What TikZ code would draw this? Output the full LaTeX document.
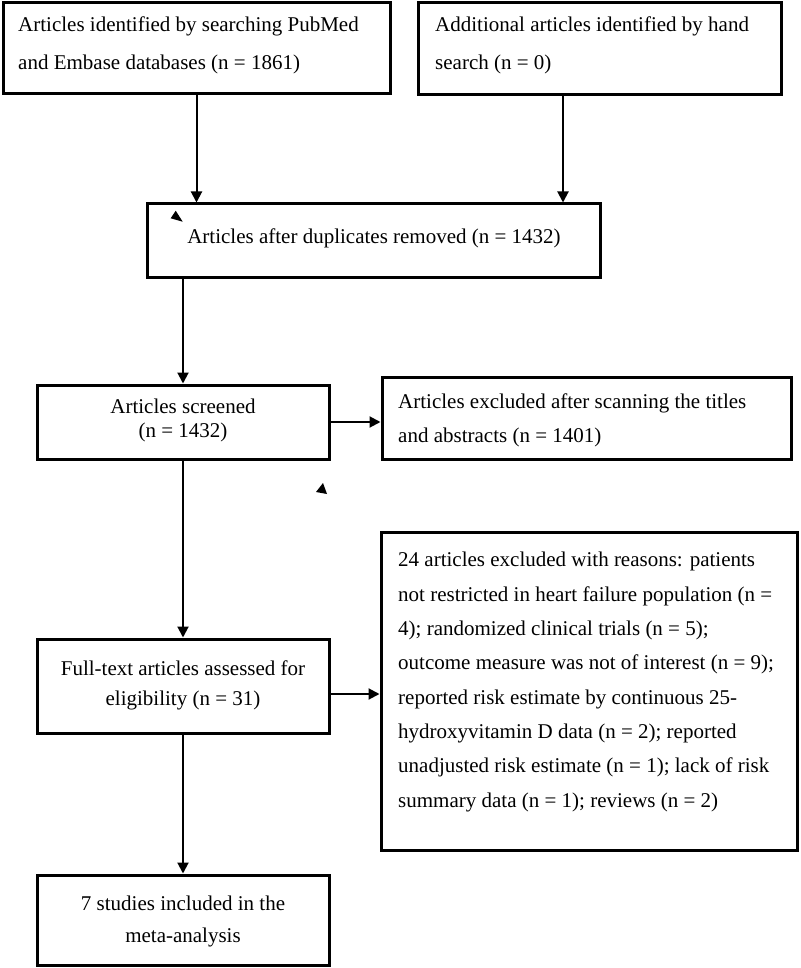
\documentclass[tikz,border=0pt]{standalone}
\usepackage{fontspec}
\setmainfont{Liberation Serif}
\usetikzlibrary{arrows.meta}
\tikzset{
  box/.style={draw, line width=3pt, rectangle, inner sep=0pt},
  txtl/.style={inner sep=0pt, align=left, anchor=west},
  txtc/.style={inner sep=0pt, align=center, anchor=center},
  conn/.style={line width=2pt, -{Triangle[length=11pt,width=11pt]}},
}
\newcommand{\fs}[1]{\fontsize{21}{#1}\selectfont}
\begin{document}
\begin{tikzpicture}[x=1pt,y=-1pt]
\useasboundingbox (0,0) rectangle (800,968);
% boxes
\node[box, minimum width=387pt, minimum height=91pt] (b1) at (196.5,48.5) {};
\node[box, minimum width=363pt, minimum height=92pt] (b2) at (599.5,49) {};
\node[box, minimum width=453pt, minimum height=73pt] (b3) at (373.5,240.5) {};
\node[box, minimum width=292pt, minimum height=74pt] (b4) at (183,422) {};
\node[box, minimum width=409pt, minimum height=82pt] (b5) at (586.5,418) {};
\node[box, minimum width=416pt, minimum height=318pt] (b6) at (589,691) {};
\node[box, minimum width=292pt, minimum height=94pt] (b7) at (183,686) {};
\node[box, minimum width=292pt, minimum height=90pt] (b8) at (183,920) {};
% texts
\node[txtl, font=\fs{38}] (t1) at (18,45) {Articles identified by searching PubMed\\and Embase databases (n = 1861)};
\node[txtl, font=\fs{38}] (t2) at (435,45) {Additional articles identified by hand\\search (n = 0)};
\node[txtc, font=\fs{34}] (t3) at (374,238) {Articles after duplicates removed (n = 1432)};
\node[txtc, font=\fs{24}] (t4) at (183,420) {Articles screened\\(n = 1432)};
\node[txtl, font=\fs{34}] (t5) at (398,420) {Articles excluded after scanning the titles\\and abstracts (n = 1401)};
\node[txtl, font=\fs{34.3}] (t6) at (398,682) {24 articles excluded with reasons: patients\\not restricted in heart failure population (n =\\4); randomized clinical trials (n = 5);\\outcome measure was not of interest (n = 9);\\reported risk estimate by continuous 25-\\hydroxyvitamin D data (n = 2); reported\\unadjusted risk estimate (n = 1); lack of risk\\summary data (n = 1); reviews (n = 2)};
\node[txtc, font=\fs{30}] (t7) at (183,685) {Full-text articles assessed for\\eligibility (n = 31)};
\node[txtc, font=\fs{32}] (t8) at (183,921) {7 studies included in the\\meta-analysis};
% connectors
\draw[conn] (b1.south) -- (b1.south |- b3.north);
\draw[conn] ([xshift=-36.5pt]b2.south) -- ([xshift=-36.5pt]b2.south |- b3.north);
\draw[conn] (b3.south -| b4.north) -- (b4.north);
\draw[conn] (b4.east) -- (b4.east -| b5.west);
\draw[conn] (b4.south) -- (b7.north);
\draw[conn] ([yshift=-8pt]b7.east) -- ([yshift=-8pt]b7.east -| b6.west);
\draw[conn] (b7.south) -- (b8.north);
% stray marks
\fill (175.7,210.7) -- (170.7,218.3) -- (182.7,221.7) -- cycle;
\fill (323,483) -- (316,492) -- (327,494) -- cycle;
\end{tikzpicture}
\end{document}
